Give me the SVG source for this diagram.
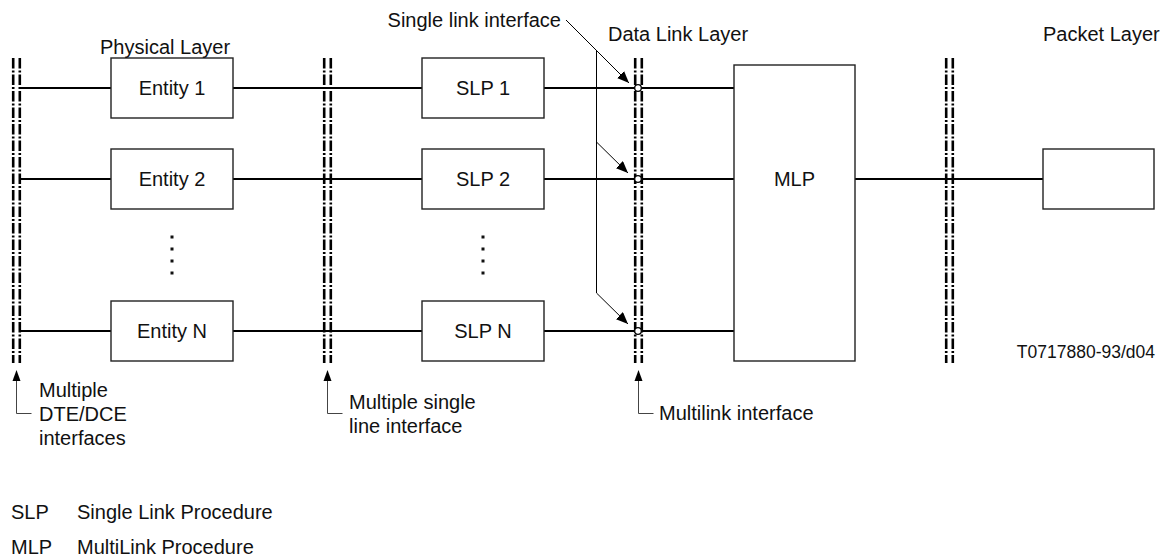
<svg xmlns="http://www.w3.org/2000/svg" width="1171" height="558" viewBox="0 0 1171 558">
<defs>
<style>
text{font-family:"Liberation Sans",Arial,sans-serif;font-size:20px;fill:#111}
.c{text-anchor:middle}
.box{fill:#fff;stroke:#222;stroke-width:1.4}
.ln{stroke:#000;stroke-width:2;fill:none}
.thin{stroke:#000;stroke-width:1;fill:none}
.gr{stroke:#444;stroke-width:1;fill:none}
.dash{stroke:#000;stroke-width:2.6;stroke-dasharray:10.5 2 2 2;fill:none}
.dot{fill:#111}
</style>
<marker id="ah" viewBox="0 0 12 10" refX="12" refY="5" markerWidth="12" markerHeight="10" markerUnits="userSpaceOnUse" orient="auto">
<path d="M0,0 L12,5 L0,10 z" fill="#000"/>
</marker>
</defs>
<rect width="1171" height="558" fill="#fff"/>

<g id="connectors">
<line class="ln" x1="20" y1="88" x2="111" y2="88"/>
<line class="ln" x1="233" y1="88" x2="422" y2="88"/>
<line class="ln" x1="544" y1="88" x2="734" y2="88"/>
<line class="ln" x1="20" y1="179" x2="111" y2="179"/>
<line class="ln" x1="233" y1="179" x2="422" y2="179"/>
<line class="ln" x1="544" y1="179" x2="734" y2="179"/>
<line class="ln" x1="20" y1="331" x2="111" y2="331"/>
<line class="ln" x1="233" y1="331" x2="422" y2="331"/>
<line class="ln" x1="544" y1="331" x2="734" y2="331"/>
<line class="ln" x1="855" y1="179" x2="1043" y2="179"/>
</g>

<g id="interfaces">
<line class="dash" x1="13.2" y1="58" x2="13.2" y2="363"/>
<line class="dash" x1="19.8" y1="58" x2="19.8" y2="363"/>
<line class="dash" x1="324.2" y1="58" x2="324.2" y2="363"/>
<line class="dash" x1="330.8" y1="58" x2="330.8" y2="363"/>
<line class="dash" x1="635.2" y1="58" x2="635.2" y2="363"/>
<line class="dash" x1="641.8" y1="58" x2="641.8" y2="363"/>
<line class="dash" x1="946.2" y1="58" x2="946.2" y2="363"/>
<line class="dash" x1="952.8" y1="58" x2="952.8" y2="363"/>
<circle cx="638" cy="88" r="3.3" fill="#fff" stroke="#000" stroke-width="1.3"/>
<circle cx="638" cy="179" r="3.3" fill="#fff" stroke="#000" stroke-width="1.3"/>
<circle cx="638" cy="331" r="3.3" fill="#fff" stroke="#000" stroke-width="1.3"/>
</g>

<g id="entity1"><rect class="box" x="111" y="58" width="122" height="60"/><text class="c" x="172" y="95">Entity 1</text></g>
<g id="entity2"><rect class="box" x="111" y="149" width="122" height="60"/><text class="c" x="172" y="186">Entity 2</text></g>
<g id="entityN"><rect class="box" x="111" y="301" width="122" height="60"/><text class="c" x="172" y="338">Entity N</text></g>
<g id="slp1"><rect class="box" x="422" y="58" width="122" height="60"/><text class="c" x="483" y="95">SLP 1</text></g>
<g id="slp2"><rect class="box" x="422" y="149" width="122" height="60"/><text class="c" x="483" y="186">SLP 2</text></g>
<g id="slpN"><rect class="box" x="422" y="301" width="122" height="60"/><text class="c" x="483" y="338">SLP N</text></g>
<g id="mlp"><rect class="box" x="734" y="65" width="121" height="296"/><text class="c" x="794.5" y="186">MLP</text></g>
<g id="packet"><rect class="box" x="1043" y="149" width="111" height="60"/></g>

<g id="ellipsis">
<rect class="dot" x="170.5" y="235.5" width="3" height="3"/>
<rect class="dot" x="170.5" y="247.5" width="3" height="3"/>
<rect class="dot" x="170.5" y="259.5" width="3" height="3"/>
<rect class="dot" x="170.5" y="271.5" width="3" height="3"/>
<rect class="dot" x="481.5" y="235.5" width="3" height="3"/>
<rect class="dot" x="481.5" y="247.5" width="3" height="3"/>
<rect class="dot" x="481.5" y="259.5" width="3" height="3"/>
<rect class="dot" x="481.5" y="271.5" width="3" height="3"/>
</g>

<g id="single-link-pointer">
<line class="thin" x1="566" y1="20" x2="629" y2="83" marker-end="url(#ah)"/>
<line class="thin" x1="596.5" y1="50.5" x2="596.5" y2="293"/>
<line class="thin" x1="596.5" y1="142" x2="628" y2="173" marker-end="url(#ah)"/>
<line class="thin" x1="596.5" y1="293" x2="628" y2="324" marker-end="url(#ah)"/>
</g>

<g id="bottom-pointers">
<path class="gr" d="M31.5,413.5 H16.5 V380" />
<path d="M16.5,370 L12.5,381 L20.5,381 z" fill="#000"/>
<path class="gr" d="M342.5,413.5 H327.5 V380" />
<path d="M327.5,370 L323.5,381 L331.5,381 z" fill="#000"/>
<path class="gr" d="M653.5,413.5 H638.5 V380" />
<path d="M638.5,370 L634.5,381 L642.5,381 z" fill="#000"/>
</g>

<g id="labels">
<text x="100" y="54">Physical Layer</text>
<text x="561" y="27" text-anchor="end">Single link interface</text>
<text x="608" y="41">Data Link Layer</text>
<text x="1043" y="41">Packet Layer</text>
<text x="1155" y="358" text-anchor="end" style="font-size:17.5px">T0717880-93/d04</text>
<text x="39" y="397">Multiple</text>
<text x="39" y="421">DTE/DCE</text>
<text x="39" y="445">interfaces</text>
<text x="349" y="409">Multiple single</text>
<text x="349" y="433">line interface</text>
<text x="659" y="420">Multilink interface</text>
<text x="11" y="519">SLP</text>
<text x="77" y="519">Single Link Procedure</text>
<text x="11" y="554">MLP</text>
<text x="77" y="554">MultiLink Procedure</text>
</g>
</svg>
